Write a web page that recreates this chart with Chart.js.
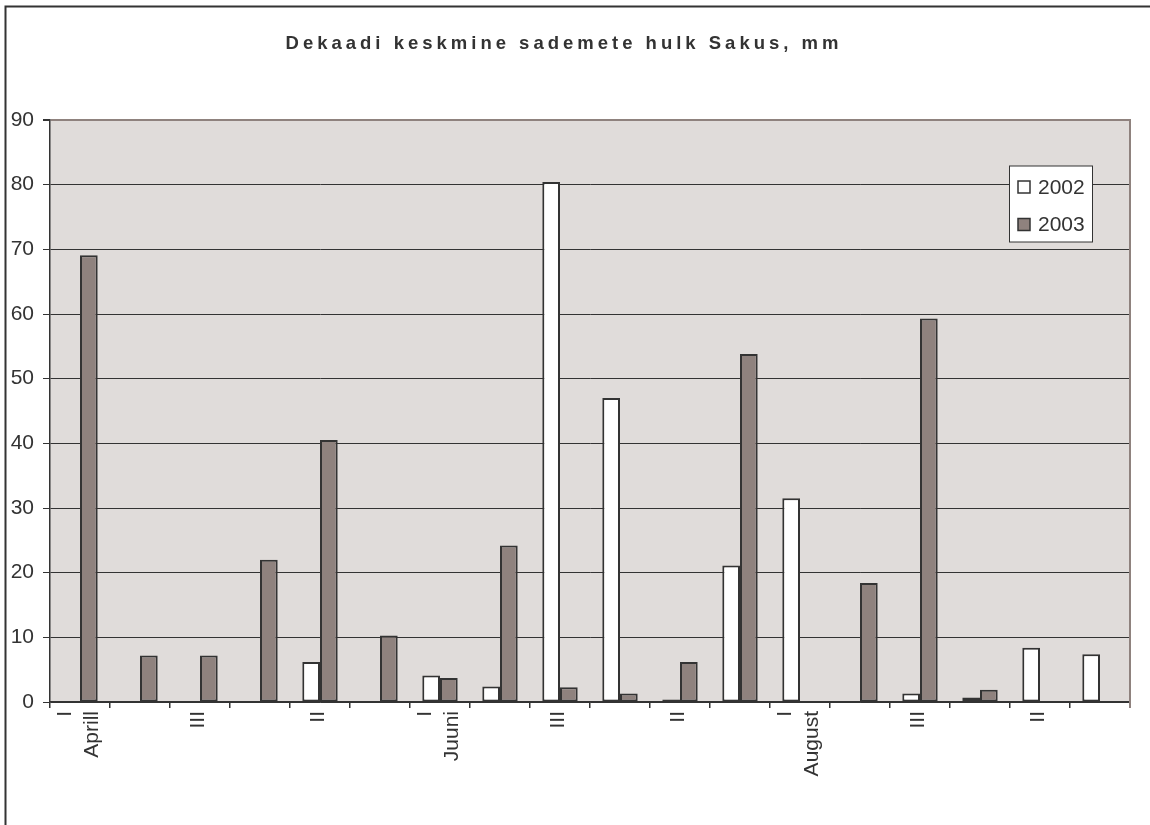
<!DOCTYPE html>
<html>
<head>
<meta charset="utf-8">
<title>Dekaadi keskmine sademete hulk Sakus, mm</title>
<script src="https://cdn.jsdelivr.net/npm/chart.js@4/dist/chart.umd.min.js"></script>
<style>
  html, body { margin: 0; padding: 0; background: #ffffff; }
  canvas { display: block; }
</style>
</head>
<body>
<canvas id="chart" width="1150" height="825"></canvas>
<script>
// Ten-day (dekaad) mean precipitation at Saku, April–September, mm
const chartTitle = 'Dekaadi keskmine sademete hulk Sakus, mm';
const monthNames = ['Aprill', 'Mai', 'Juuni', 'Juuli', 'August', 'September'];
const decadeNames = ['I', 'II', 'III'];
const seriesLabels = ['2002', '2003'];
const series2002 = [null, null, null, null, 6.2, null, 4.1, 2.4, 80.4, 47.0, 0.4, 21.1, 31.5, null, 1.3, 0.7, 8.4, 7.4];
const series2003 = [69.1, 7.2, 7.2, 22.0, 40.5, 10.3, 3.7, 24.2, 2.3, 1.3, 6.2, 53.8, null, 18.4, 59.3, 1.9, null, null];
const yTicks = [0, 10, 20, 30, 40, 50, 60, 70, 80, 90];

// One category per dekaad: [decade, month]
const categories = monthNames.flatMap(m => decadeNames.map(d => [d, m]));

const FONT = '"Liberation Sans", Arial, Helvetica, sans-serif';
const TEXT = '#333333';
const EDGE = '#333333';
const PLOT_BG = '#e0dcda';
const WARM_GREY = '#8f827e';
const LINE_H = 27;

// Every other dekaad is labelled; the first dekaad of a month also carries the month name
function tickText(index) {
  if (index % 2 === 1) return '';
  const [d, m] = categories[index];
  return d === 'I' ? [d, m] : ['', d];
}

const frame = {
  id: 'frame',
  beforeDraw(chart) {
    const { ctx, chartArea: a } = chart;
    ctx.save();
    ctx.fillStyle = '#ffffff';
    ctx.fillRect(0, 0, chart.width, chart.height);
    ctx.fillStyle = PLOT_BG;
    ctx.fillRect(a.left, a.top, a.right - a.left, a.bottom - a.top);
    ctx.restore();
  },
  afterDraw(chart) {
    const { ctx, chartArea: a } = chart;
    ctx.save();
    // right edge of the plot area
    ctx.strokeStyle = WARM_GREY;
    ctx.lineWidth = 2;
    ctx.beginPath();
    ctx.moveTo(a.right, a.top - 1);
    ctx.lineTo(a.right, a.bottom + 6);
    ctx.stroke();

    // legend box
    const lx = 1009.5, ly = 166, lw = 83, lh = 76;
    ctx.fillStyle = '#ffffff';
    ctx.fillRect(lx, ly, lw, lh);
    ctx.strokeStyle = EDGE;
    ctx.lineWidth = 1;
    ctx.strokeRect(lx, ly, lw, lh);
    ctx.font = '21px ' + FONT;
    ctx.textBaseline = 'middle';
    ctx.textAlign = 'left';
    chart.data.datasets.forEach((ds, i) => {
      const cy = 187 + i * 37.5;
      ctx.fillStyle = ds.backgroundColor;
      ctx.fillRect(1018, cy - 6, 12, 12);
      ctx.strokeStyle = EDGE;
      ctx.lineWidth = 1.5;
      ctx.strokeRect(1018, cy - 6, 12, 12);
      ctx.fillStyle = TEXT;
      ctx.fillText(ds.label, 1038, cy + 1);
    });

    // chart title
    ctx.font = 'bold 18.5px ' + FONT;
    ctx.letterSpacing = '4px';
    ctx.textAlign = 'center';
    ctx.textBaseline = 'alphabetic';
    ctx.fillStyle = TEXT;
    ctx.fillText(chartTitle, 564, 48.5);
    ctx.letterSpacing = '0px';

    // outer frame
    ctx.strokeStyle = EDGE;
    ctx.lineWidth = 2;
    ctx.beginPath();
    ctx.moveTo(5.5, chart.height + 2);
    ctx.lineTo(5.5, 6.5);
    ctx.lineTo(chart.width + 2, 6.5);
    ctx.stroke();
    ctx.restore();
  }
};

new Chart(document.getElementById('chart'), {
  type: 'bar',
  data: {
    labels: categories,
    datasets: [
      {
        label: seriesLabels[0],
        data: series2002,
        backgroundColor: '#ffffff',
        borderColor: EDGE,
        borderWidth: 2,
        borderSkipped: false,
        categoryPercentage: 0.59,
        barPercentage: 1.0
      },
      {
        label: seriesLabels[1],
        data: series2003,
        backgroundColor: WARM_GREY,
        borderColor: EDGE,
        borderWidth: 2,
        borderSkipped: false,
        categoryPercentage: 0.59,
        barPercentage: 1.0
      }
    ]
  },
  options: {
    responsive: false,
    animation: false,
    devicePixelRatio: 1,
    layout: { padding: { top: 120, right: 20, bottom: 0, left: 0 } },
    plugins: {
      legend: { display: false },
      title: { display: false },
      tooltip: { enabled: false }
    },
    scales: {
      x: {
        type: 'category',
        offset: true,
        grid: {
          offset: true,
          drawOnChartArea: false,
          tickLength: 6,
          color: EDGE,
          lineWidth: 1.5
        },
        border: { color: EDGE, width: 1.5 },
        ticks: {
          autoSkip: false,
          minRotation: 90,
          maxRotation: 90,
          padding: 3,
          labelOffset: -15,
          color: TEXT,
          font: (ctx) => ({
            family: FONT,
            size: 21,
            lineHeight: (ctx.index % 2 === 0 && categories[ctx.index][0] === 'I') ? LINE_H + 'px' : (LINE_H / 2) + 'px'
          }),
          callback: (value, index) => tickText(index)
        },
        afterFit: (scale) => { scale.height = 123; }
      },
      y: {
        min: yTicks[0],
        max: yTicks[yTicks.length - 1],
        afterBuildTicks: (scale) => { scale.ticks = yTicks.map(v => ({ value: v })); },
        grid: {
          color: (ctx) => ctx.tick && ctx.tick.value === yTicks[yTicks.length - 1] ? WARM_GREY : EDGE,
          lineWidth: (ctx) => ctx.tick && ctx.tick.value === yTicks[yTicks.length - 1] ? 2 : 1,
          tickColor: EDGE,
          tickLength: 7
        },
        border: { color: EDGE, width: 1.5 },
        ticks: {
          padding: 9,
          color: TEXT,
          font: { family: FONT, size: 21 }
        },
        afterFit: (scale) => { scale.width = 50; }
      }
    }
  },
  plugins: [frame]
});
</script>
</body>
</html>
